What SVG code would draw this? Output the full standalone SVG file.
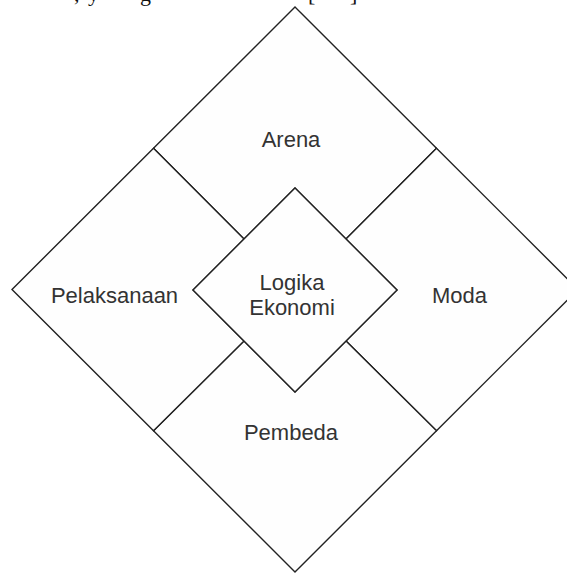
<svg xmlns="http://www.w3.org/2000/svg" width="567" height="573" viewBox="0 0 567 573">
<style>
.region{fill:#fefefe;stroke:#222;stroke-width:1.4;stroke-linejoin:miter}
.lbl{font-family:"Liberation Sans",Arial,sans-serif;font-size:22px;fill:#333;text-anchor:middle}
.cut{font-family:"Liberation Serif","Times New Roman",serif;font-size:22px;fill:#111}
</style>
<rect width="567" height="573" fill="#fff"/>
<text class="cut" y="0.5"><tspan x="74">,</tspan><tspan x="88">y</tspan><tspan x="140">g</tspan><tspan x="308">[</tspan><tspan x="350">]</tspan></text>
<g id="arena">
<polygon class="region" points="295,7 436.5,148.25 346,239 295,188 244,239 153.5,148.25"/>
<text class="lbl" x="291" y="147">Arena</text>
</g>
<g id="moda">
<polygon class="region" points="436.5,148.25 578,289.5 436.5,430.75 346,341 397,290 346,239"/>
<text class="lbl" x="459.5" y="303">Moda</text>
</g>
<g id="pembeda">
<polygon class="region" points="153.5,430.75 244,341 295,392 346,341 436.5,430.75 295,572"/>
<text class="lbl" x="291" y="439.5">Pembeda</text>
</g>
<g id="pelaksanaan">
<polygon class="region" points="12,289.5 153.5,148.25 244,239 193,290 244,341 153.5,430.75"/>
<text class="lbl" x="114.5" y="303">Pelaksanaan</text>
</g>
<g id="logika-ekonomi">
<polygon class="region" points="295,188 397,290 295,392 193,290"/>
<text class="lbl" x="292" y="290">Logika</text>
<text class="lbl" x="292" y="315">Ekonomi</text>
</g>
<g id="connectors"></g>
</svg>
